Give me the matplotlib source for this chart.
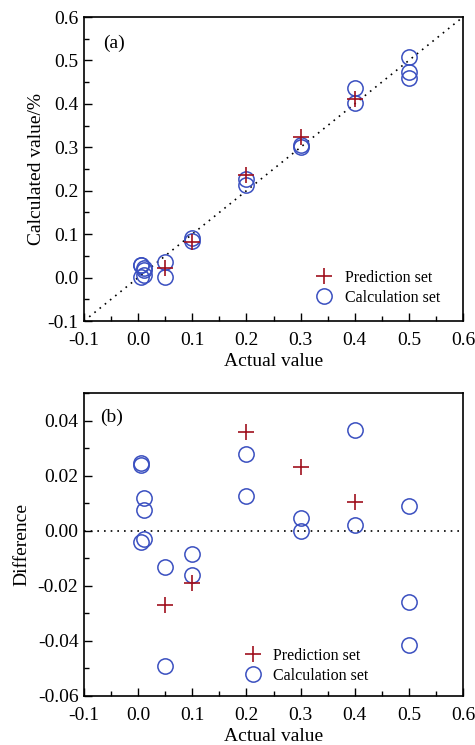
import matplotlib.pyplot as plt
from matplotlib.ticker import MultipleLocator, FormatStrFormatter

plt.rcParams["font.family"] = ["Liberation Serif", "DejaVu Serif"]
plt.rcParams["axes.unicode_minus"] = False

# (a) calculated vs actual
calc_x = [0.005, 0.005, 0.005, 0.01, 0.01, 0.01, 0.05, 0.05, 0.1, 0.1,
          0.2, 0.2, 0.3, 0.3, 0.4, 0.4, 0.5, 0.5, 0.5]
calc_y = [0.029, 0.029, 0.001, 0.022, 0.0175, 0.007, 0.037, 0.001, 0.0915, 0.084,
          0.228, 0.2125, 0.3045, 0.300, 0.4365, 0.402, 0.509, 0.474, 0.4585]
pred_x = [0.05, 0.1, 0.2, 0.3, 0.4]
pred_y = [0.023, 0.081, 0.236, 0.323, 0.4105]

# (b) difference
calc_diff = [0.0245, 0.0238, -0.004, 0.012, 0.0075, -0.003, -0.013, -0.049, -0.0085, -0.016,
             0.028, 0.0125, 0.0045, 0.0, 0.0365, 0.002, 0.009, -0.026, -0.0415]
pred_diff = [-0.027, -0.019, 0.036, 0.023, 0.0105]

red = "#a0101e"
blue = "#3a4fc0"

fig = plt.figure(figsize=(4.75, 7.45), dpi=100)
ax1 = fig.add_axes([84 / 475, 1 - 321 / 745, 379 / 475, 304 / 745])
ax2 = fig.add_axes([84 / 475, 1 - 696 / 745, 379 / 475, 303 / 745])

ax1.plot([-0.1, 0.6], [-0.1, 0.6], ls=(0, (1, 3)), color="black", lw=1.2)
ax1.plot(pred_x, pred_y, ls="none", marker="+", ms=11.5, mew=1.2, color=red,
         label="Prediction set", zorder=4)
ax1.plot(calc_x, calc_y, ls="none", marker="o", ms=11, mfc="none", mew=1.1,
         color=blue, label="Calculation set", zorder=3)
ax1.set_xlim(-0.1, 0.6)
ax1.set_ylim(-0.1, 0.6)
ax1.set_xlabel("Actual value", fontsize=14, labelpad=3)
ax1.set_ylabel("Calculated value/%", fontsize=14, labelpad=2)
ax1.text(0.05, 0.914, "(a)", transform=ax1.transAxes, fontsize=14, va="center")
ax1.legend(loc="lower right", bbox_to_anchor=(0.957, 0.029), borderaxespad=0,
           frameon=False, fontsize=11.5, handletextpad=0.3, labelspacing=0.25)
ax1.yaxis.set_minor_locator(MultipleLocator(0.05))
ax1.yaxis.set_major_formatter(FormatStrFormatter("%.1f"))

ax2.axhline(0, ls=(0, (1, 3)), color="black", lw=1.2)
ax2.plot(pred_x, pred_diff, ls="none", marker="+", ms=11.5, mew=1.2, color=red,
         label="Prediction set", zorder=4)
ax2.plot(calc_x, calc_diff, ls="none", marker="o", ms=11, mfc="none", mew=1.1,
         color=blue, label="Calculation set", zorder=3)
ax2.set_xlim(-0.1, 0.6)
ax2.set_ylim(-0.06, 0.05)
ax2.set_yticks([-0.06, -0.04, -0.02, 0.0, 0.02, 0.04])
ax2.yaxis.set_minor_locator(MultipleLocator(0.01))
ax2.yaxis.set_major_formatter(FormatStrFormatter("%.2f"))
ax2.set_xlabel("Actual value", fontsize=14, labelpad=3)
ax2.set_ylabel("Difference", fontsize=14, labelpad=5)
ax2.text(0.042, 0.92, "(b)", transform=ax2.transAxes, fontsize=14, va="center")
ax2.legend(loc="lower right", bbox_to_anchor=(0.768, 0.019), borderaxespad=0,
           frameon=False, fontsize=11.5, handletextpad=0.3, labelspacing=0.25)

for ax in (ax1, ax2):
    ax.xaxis.set_major_locator(MultipleLocator(0.1))
    ax.xaxis.set_minor_locator(MultipleLocator(0.05))
    ax.xaxis.set_major_formatter(FormatStrFormatter("%.1f"))
    ax.tick_params(which="both", direction="in", top=False, right=False,
                   labelsize=14, width=1.0)
    ax.tick_params(axis="x", which="major", pad=8)
    ax.tick_params(axis="y", which="major", pad=4)
    ax.tick_params(which="major", length=6)
    ax.tick_params(which="minor", length=3.5)
    for s in ax.spines.values():
        s.set_linewidth(1.2)

fig.savefig("out.png", dpi=100)
